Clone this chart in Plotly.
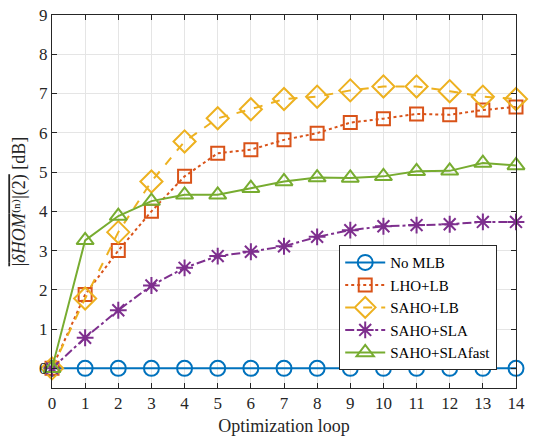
import plotly.graph_objects as go

loops = list(range(15))
no_mlb = [0]*15
lho_lb = [0, 1.88, 3.0, 4.0, 4.89, 5.48, 5.57, 5.82, 5.99, 6.26, 6.36, 6.48, 6.46, 6.58, 6.66]
saho_lb = [0, 1.78, 3.47, 4.76, 5.78, 6.37, 6.6, 6.86, 6.92, 7.08, 7.18, 7.18, 7.06, 6.92, 6.86]
saho_sla = [0, 0.78, 1.48, 2.11, 2.56, 2.86, 2.97, 3.11, 3.35, 3.52, 3.62, 3.65, 3.67, 3.73, 3.73]
saho_slafast = [0, 3.26, 3.88, 4.26, 4.42, 4.42, 4.59, 4.76, 4.86, 4.85, 4.89, 5.02, 5.03, 5.23, 5.17]

names = ["No MLB", "LHO+LB", "SAHO+LB", "SAHO+SLA", "SAHO+SLAfast"]
series = [no_mlb, lho_lb, saho_lb, saho_sla, saho_slafast]
colors = ["#0072BD", "#D95319", "#EDB120", "#7E2F8E", "#77AC30"]
dashes = ["solid", "dot", "dash", "dashdot", "solid"]
symbols = ["circle-open", "square-open", "diamond-open", "asterisk-open", "triangle-up-open"]
sizes = [15, 13, 17, 14, 15]

fig = go.Figure()
for n, s, c, d, sym, sz in zip(names, series, colors, dashes, symbols, sizes):
    fig.add_trace(go.Scatter(
        x=loops, y=s, name=n, mode="lines+markers",
        line=dict(color=c, dash=d, width=2),
        marker=dict(symbol=sym, size=sz, color=c, line=dict(width=2, color=c)),
        cliponaxis=False,
    ))

font = "'Liberation Serif', 'Times New Roman', 'DejaVu Serif', serif"
fig.update_layout(
    width=536, height=440,
    margin=dict(l=52, r=20, t=15, b=52, autoexpand=False),
    plot_bgcolor="white", paper_bgcolor="white",
    font=dict(family=font, size=17, color="#262626"),
    showlegend=True,
    legend=dict(x=0.619, y=0.383, xanchor="left", yanchor="top",
                bgcolor="white", bordercolor="#262626", borderwidth=1,
                font=dict(family=font, size=15, color="#000"),
                tracegroupgap=0, itemwidth=40),
    xaxis=dict(range=[0, 14], tickmode="linear", dtick=1, showgrid=True, automargin=False,
               gridcolor="#E5E5E5", gridwidth=1, showline=True, linecolor="#262626",
               linewidth=1, mirror="ticks", ticks="inside", ticklen=5, tickcolor="#262626",
               zeroline=False,
               title=dict(text="Optimization loop", font=dict(size=18, color="#262626"), standoff=6)),
    yaxis=dict(range=[-0.5, 9], tickmode="linear", tick0=0, dtick=1, showgrid=True, automargin=False,
               gridcolor="#E5E5E5", gridwidth=1, showline=True, linecolor="#262626",
               linewidth=1, mirror="ticks", ticks="inside", ticklen=5, tickcolor="#262626",
               zeroline=False,
               title=dict(text="<span style='text-decoration:overline'>|<i>δHOM</i>⁽ⁿ⁾|(2)</span> [dB]",
                          font=dict(size=18, color="#262626"), standoff=8)),
)

fig.write_html("out.html", config={"displayModeBar": False},
               post_script="document.body.style.margin='0px';document.body.style.overflow='hidden';")
